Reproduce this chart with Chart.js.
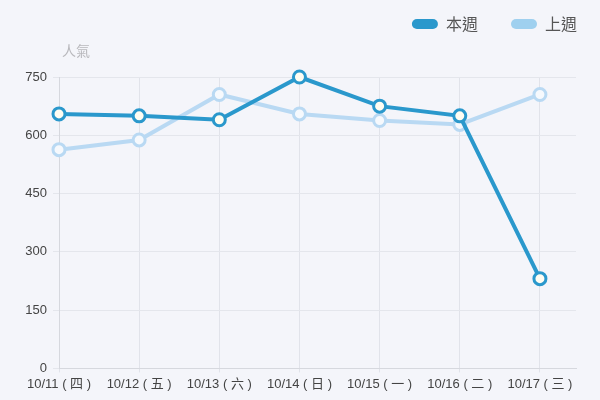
<!DOCTYPE html>
<html lang="zh-Hant">
<head>
    <meta charset="UTF-8">
    <title>人氣</title>
    <script src="https://cdn.jsdelivr.net/npm/chart.js@4/dist/chart.umd.min.js"></script>
    <style>
        html, body { margin: 0; padding: 0; background: #f4f5fa; }
        .container { width: 600px; height: 400px; }
    </style>
</head>
<body>
<div class="container">
    <canvas id="my-chart"></canvas>
</div>
<script>

    const labels = ['10/11 ( 四 )', '10/12 ( 五 )', '10/13 ( 六 )', '10/14 ( 日 )', '10/15 ( 一 )', '10/16 ( 二 )', '10/17 ( 三 )'];
    const thisWeek = [655, 650, 640, 750, 675, 650, 231];
    const lastWeek = [563, 588, 705, 655, 638, 628, 705];
    const yTicks = [0, 150, 300, 450, 600, 750];

    const toPoints = (arr) => arr.map((v, i) => ({ x: i, y: v }));
    const fontFamily = '"Liberation Sans", "Noto Sans CJK TC", sans-serif';

    // y axis caption drawn above the top tick
    const yCaption = {
        id: 'yCaption',
        afterDraw(chart) {
            const c = chart.ctx;
            const y = chart.scales.y;
            c.save();
            c.font = '14px "Noto Sans CJK TC"';
            c.fillStyle = '#b8b8bc';
            c.textBaseline = 'middle';
            c.fillText('人氣', y.right + 3, chart.chartArea.top - 26);
            c.restore();
        }
    };

    const data = {
        datasets: [{
            label: '本週',
            data: toPoints(thisWeek),
            borderColor: '#2a98cc',
            backgroundColor: '#2a98cc',
            borderWidth: 4,
            pointRadius: 6,
            pointBorderWidth: 3,
            pointBackgroundColor: '#fffdf2',
            pointBorderColor: '#2a98cc',
            tension: 0,
            clip: false,
            order: 0
        }, {
            label: '上週',
            data: toPoints(lastWeek),
            borderColor: '#b9d9f3',
            backgroundColor: '#9fd0ef',
            borderWidth: 4,
            pointRadius: 6,
            pointBorderWidth: 3,
            pointBackgroundColor: '#f6f9fd',
            pointBorderColor: '#b9d9f3',
            tension: 0,
            clip: false,
            order: 1
        }]
    };

    const config = {
        type: 'line',
        data: data,
        plugins: [yCaption],
        options: {
            responsive: true,
            maintainAspectRatio: false,
            animation: false,
            layout: { padding: { top: 8, right: 24, left: 0, bottom: 4 } },
            plugins: {
                legend: {
                    align: 'end',
                    labels: {
                        boxWidth: 26,
                        boxHeight: 10,
                        useBorderRadius: true,
                        borderRadius: 5,
                        padding: 8,
                        color: '#555',
                        font: { family: '"Noto Sans CJK TC"', size: 16 },
                        generateLabels(chart) {
                            return chart.data.datasets.map((ds, i) => ({
                                text: i === 0 ? ds.label + '       ' : ds.label,
                                fillStyle: ds.backgroundColor,
                                strokeStyle: ds.backgroundColor,
                                lineWidth: 0,
                                borderRadius: 5,
                                datasetIndex: i,
                                fontColor: '#555'
                            }));
                        }
                    }
                },
                tooltip: { enabled: false }
            },
            scales: {
                x: {
                    type: 'linear',
                    min: 0,
                    max: 6.45,
                    afterBuildTicks(axis) {
                        axis.ticks = labels.map((l, i) => ({ value: i }));
                    },
                    ticks: {
                        autoSkip: false,
                        maxRotation: 0,
                        padding: 4,
                        color: '#444',
                        font: { family: fontFamily, size: 13 },
                        callback: (v) => labels[v]
                    },
                    grid: { color: '#e1e3ea', tickLength: 4 },
                    border: { color: '#d6d8de' }
                },
                y: {
                    min: 0,
                    max: 750,
                    afterBuildTicks(axis) {
                        axis.ticks = yTicks.map(v => ({ value: v }));
                    },
                    ticks: {
                        color: '#444',
                        padding: 6,
                        font: { family: fontFamily, size: 13 }
                    },
                    grid: { color: '#e4e6ec', tickLength: 6 },
                    border: { color: '#d6d8de' },
                    afterFit(axis) { axis.width = 59; }
                }
            }
        },
    };

    const chart = new Chart(document.getElementById('my-chart'), config);

    // leave room under the legend for the caption, and nudge legend to the right
    const legend = chart.legend;
    const origFit = legend.fit;
    legend.fit = function () { origFit.call(this); this.height += 35; };
    const origDraw = legend.draw;
    legend.draw = function () {
        const c = this.ctx;
        c.save();
        c.translate(9, 0);
        origDraw.call(this);
        c.restore();
    };
    chart.update();

</script>
</body>
</html>
